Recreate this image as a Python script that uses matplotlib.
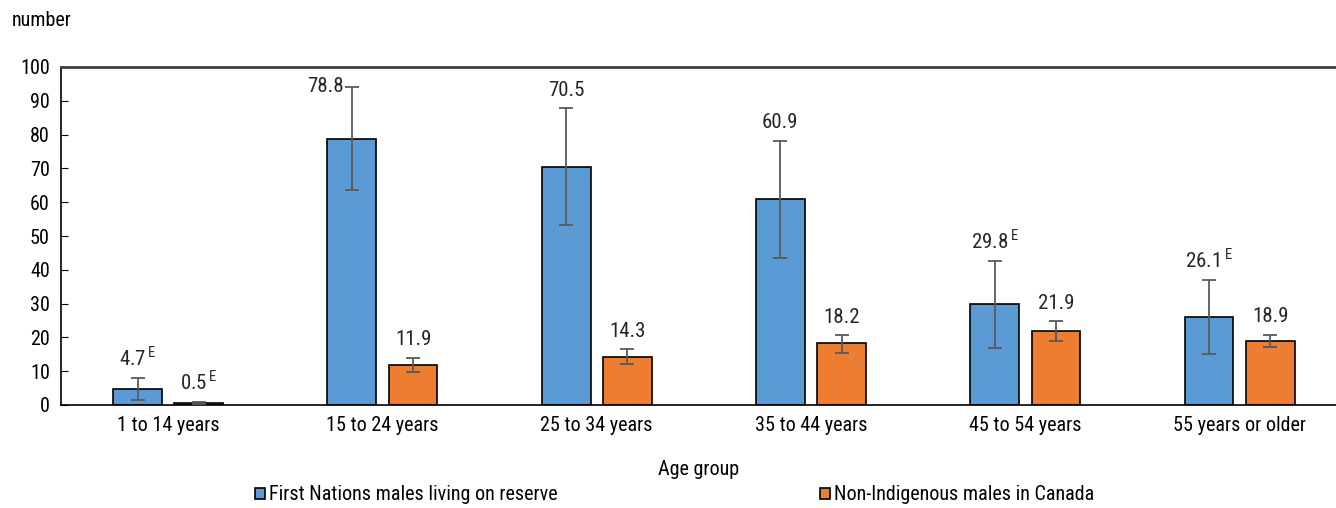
import matplotlib
matplotlib.use("Agg")
import matplotlib.pyplot as plt
from matplotlib import font_manager
import numpy as np

categories = ["1 to 14 years", "15 to 24 years", "25 to 34 years",
              "35 to 44 years", "45 to 54 years", "55 years or older"]
fn_values = [4.7, 78.8, 70.5, 60.9, 29.8, 26.1]
fn_low = [1.4, 63.6, 53.3, 43.6, 17.0, 15.1]
fn_high = [7.9, 94.1, 87.8, 78.2, 42.7, 37.1]
fn_flag = [True, False, False, False, True, True]
ni_values = [0.5, 11.9, 14.3, 18.2, 21.9, 18.9]
ni_low = [0.2, 9.9, 12.1, 15.5, 19.0, 17.1]
ni_high = [0.8, 14.0, 16.5, 20.7, 24.9, 20.8]
ni_flag = [True, False, False, False, False, False]
yticks = list(range(0, 101, 10))
series_names = ["First Nations males living on reserve", "Non-Indigenous males in Canada"]

# pick a condensed font if one is installed
narrow = None
stretch = 'normal'
names = {f.name for f in font_manager.fontManager.ttflist}
for cand in ['Liberation Sans Narrow', 'Roboto Condensed', 'Arial Narrow',
             'Noto Sans Condensed', 'Open Sans Condensed', 'DejaVu Sans Condensed']:
    if cand in names:
        narrow = cand
        break
if narrow is None:
    for f in font_manager.fontManager.ttflist:
        if f.name in ('Noto Sans', 'Open Sans', 'Inter') and str(f.stretch) in ('condensed', 'semi-condensed', '75', '87.5') and f.weight in (400, 'normal', 'regular'):
            narrow = f.name
            stretch = 'condensed'
            break
if narrow is None:
    narrow = 'Roboto'
    fs = 13
else:
    fs = 14.5

fam = [narrow, 'Roboto', 'DejaVu Sans']
plt.rcParams['font.family'] = fam
plt.rcParams['font.stretch'] = stretch
plt.rcParams['mathtext.fontset'] = 'custom'
plt.rcParams['mathtext.rm'] = narrow

fig = plt.figure(figsize=(13.36, 5.08), dpi=100)
ax = fig.add_axes([61/1336, 1-405/508, 1-61/1336, (405-67)/508])

x = np.arange(len(categories))
w = 0.228
off = 0.143
blue = '#5B9BD5'
orange = '#ED7D31'
err_col = '#595959'

def yerr(v, lo, hi):
    v = np.array(v); return np.vstack([v - np.array(lo), np.array(hi) - v])

b1 = ax.bar(x - off, fn_values, w, color=blue, edgecolor='black', linewidth=1.2,
            label=series_names[0], zorder=2)
b2 = ax.bar(x + off, ni_values, w, color=orange, edgecolor='black', linewidth=1.2,
            label=series_names[1], zorder=2)
ax.errorbar(x - off, fn_values, yerr=yerr(fn_values, fn_low, fn_high), fmt='none',
            ecolor=err_col, elinewidth=1.3, capsize=5, capthick=1.3, zorder=3)
ax.errorbar(x + off, ni_values, yerr=yerr(ni_values, ni_low, ni_high), fmt='none',
            ecolor=err_col, elinewidth=1.3, capsize=5, capthick=1.3, zorder=3)

def lab(v, flag):
    s = f"{v:.1f}"
    if flag:
        s += r"$^{\,\mathrm{E}}$"
    return s

for xs, vals, highs, flags in [(x - off, fn_values, fn_high, fn_flag),
                               (x + off, ni_values, ni_high, ni_flag)]:
    for xi, v, h, f in zip(xs, vals, highs, flags):
        if h + 8 > 100:
            ax.annotate(lab(v, f), (xi, h), xytext=(-6, 0), textcoords='offset points',
                        ha='right', va='center', fontsize=fs + 0.5, color='#262626')
        else:
            ax.annotate(lab(v, f), (xi, h), xytext=(0, 6), textcoords='offset points',
                        ha='center', va='bottom', fontsize=fs + 0.5, color='#262626')

ax.set_xlim(-0.5, 5.45)
ax.set_ylim(0, 100)
ax.set_yticks(yticks)
ax.set_xticks(x)
ax.set_xticklabels(categories)
ax.tick_params(axis='y', direction='in', length=5, labelsize=fs, pad=8, colors='black')
ax.tick_params(axis='x', length=0, labelsize=fs, pad=8)
for s in ['left', 'bottom']:
    ax.spines[s].set_color('black'); ax.spines[s].set_linewidth(1.2)
ax.spines['top'].set_color('#404040'); ax.spines['top'].set_linewidth(2)
ax.spines['right'].set_visible(False)

ax.set_xlabel("Age group", fontsize=fs, labelpad=18)
fig.text(12/1336, 1-20/508, "number", fontsize=fs, va='center', ha='left')

for h, name, xa in [(b1, series_names[0], 255/1336), (b2, series_names[1], 820/1336)]:
    fig.legend(handles=[h], labels=[name], loc='center left', bbox_to_anchor=(xa, 1 - 495/508),
               frameon=False, fontsize=fs, handlelength=0.5, handleheight=0.5,
               handletextpad=0.2, borderpad=0.0, borderaxespad=0)

fig.savefig("out.png", dpi=100)
